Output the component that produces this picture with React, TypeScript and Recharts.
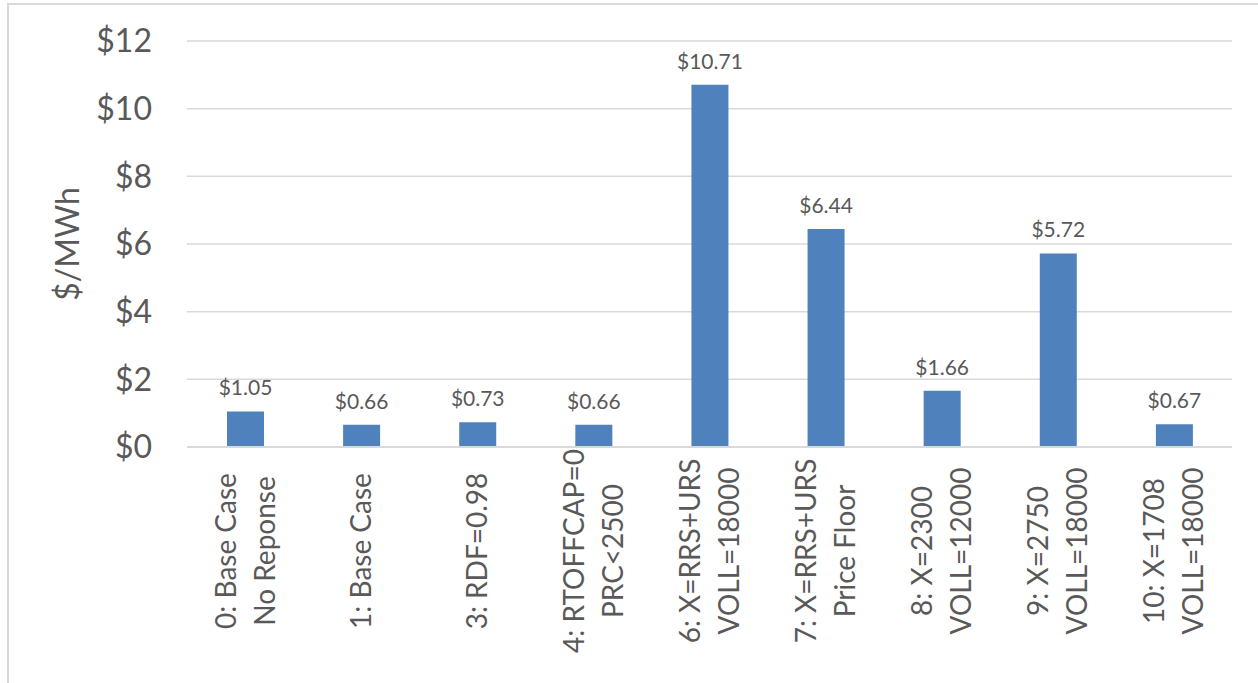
import { Bar, BarChart, CartesianGrid, LabelList, XAxis, YAxis, Label } from "recharts";

const scenarios = [
  "0: Base Case\nNo Reponse",
  "1: Base Case",
  "3: RDF=0.98",
  "4: RTOFFCAP=0\nPRC<2500",
  "6: X=RRS+URS\nVOLL=18000",
  "7: X=RRS+URS\nPrice Floor",
  "8: X=2300\nVOLL=12000",
  "9: X=2750\nVOLL=18000",
  "10: X=1708\nVOLL=18000",
];
const costs = [1.05, 0.66, 0.73, 0.66, 10.71, 6.44, 1.66, 5.72, 0.67];
const yTicks = [0, 2, 4, 6, 8, 10, 12];

const data = scenarios.map((name, i) => ({ name, cost: costs[i] }));

const FONT = "Lato, 'Liberation Sans', sans-serif";
const GREY_TEXT = "#595959";
const GRID = "#D9D9D9";

function ScenarioTick({ x, y, payload }: any) {
  const lines = String(payload.value).split("\n");
  const gap = 39;
  const first = -((lines.length - 1) * gap) / 2;
  return (
    <g transform={`translate(${x},${y + 96})`}>
      <text
        transform="rotate(-90)"
        textAnchor="middle"
        fill={GREY_TEXT}
        fontSize={28}
        fontFamily={FONT}
      >
        {lines.map((line, i) => (
          <tspan key={i} x={0} y={first + i * gap + 10}>
            {line}
          </tspan>
        ))}
      </text>
    </g>
  );
}

export default function App() {
  return (
    <div
      style={{
        position: "relative",
        width: 1258,
        height: 683,
        overflow: "hidden",
        background: "#fff",
      }}
    >
      <style>{"body{margin:0}"}</style>
      <div
        style={{
          position: "absolute",
          left: 7,
          top: 3,
          width: 1400,
          height: 800,
          borderLeft: `2px solid ${GRID}`,
          borderTop: `2px solid ${GRID}`,
        }}
      />
      <div style={{ position: "absolute", left: 0, top: 0 }}>
        <BarChart
          width={1258}
          height={683}
          data={data}
          margin={{ top: 41, right: 26, bottom: 36, left: 0 }}
        >
          <CartesianGrid vertical={false} stroke={GRID} strokeWidth={1.5} />
          <XAxis
            dataKey="name"
            height={200}
            interval={0}
            tickLine={false}
            axisLine={{ stroke: GRID, strokeWidth: 2 }}
            tick={<ScenarioTick />}
          />
          <YAxis
            width={187}
            domain={[0, 12]}
            ticks={yTicks}
            tickLine={false}
            axisLine={false}
            tickMargin={29}
            tick={{ fontSize: 32, fill: GREY_TEXT, fontFamily: FONT }}
            tickFormatter={(v: number) => `$${v}`}
          >
            <Label
              value="$/MWh"
              angle={-90}
              position="center"
              dx={-26}
              fontSize={32}
              fill={GREY_TEXT}
              fontFamily={FONT}
            />
          </YAxis>
          <Bar dataKey="cost" fill="#4F81BD" barSize={37} isAnimationActive={false}>
            <LabelList
              dataKey="cost"
              position="top"
              offset={16}
              fill={GREY_TEXT}
              fontSize={21}
              fontFamily={FONT}
              formatter={(v: any) => `$${Number(v).toFixed(2)}`}
            />
          </Bar>
        </BarChart>
      </div>
    </div>
  );
}
